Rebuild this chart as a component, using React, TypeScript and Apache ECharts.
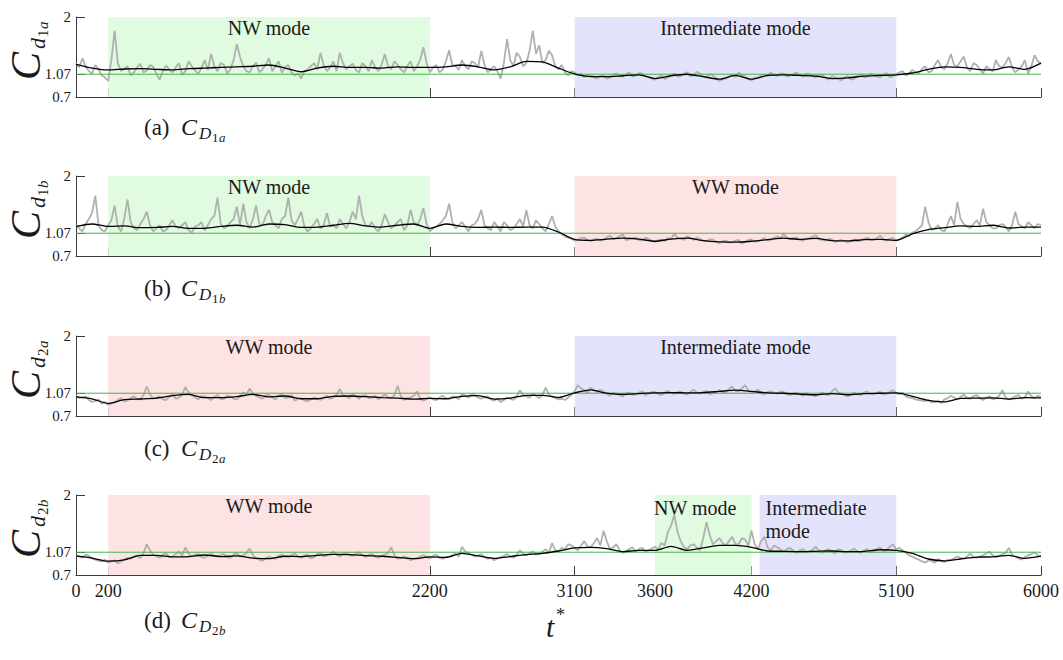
import React, { useEffect, useRef } from "react";
import * as echarts from "echarts";

// ---------- data ----------
const xTickValues = [200, 2200, 3100, 3600, 4200, 5100, 6000];
const xLabelValues = [0, 200, 2200, 3100, 3600, 4200, 5100, 6000];
const yTickValues = [0.7, 1.07, 2];
const yTickLabels = ["0.7", "1.07", "2"];
const refLevel = 1.07;
const tMax = 6000;
const rawStep = 20; // sampling step of the raw (grey) signals
const meanStep = 100; // sampling step of the moving average (black)

const raw1a = [
  1.25, 1.18, 1.33, 1.2, 1.12, 1.08, 1.22, 1.15, 1.05, 1.02, 0.96, 1.3, 1.78, 1.25, 1.12, 1.16, 1.2, 1.05, 1.1, 1.18,
  1.24, 1.1, 1.13, 1.22, 1.19, 1.08, 0.98, 1.12, 1.21, 1.15, 1.1, 1.18, 1.25, 1.06, 1.12, 1.28, 1.2, 1.13, 1.08, 1.17,
  1.3, 1.14, 1.4, 1.2, 1.12, 1.25, 1.22, 1.08, 1.15, 1.3, 1.56, 1.35, 1.2, 1.12, 1.1, 1.2, 1.26, 1.1, 1.15, 1.22,
  1.33, 1.12, 1.2, 1.28, 1.1, 1.18, 1.22, 1.1, 1.05, 1.08, 1.0, 1.12, 1.15, 1.2, 1.25, 1.15, 1.42, 1.22, 1.12, 1.18,
  1.28, 1.12, 1.42, 1.25, 1.15, 1.2, 1.24, 1.14, 1.1, 1.25, 1.2, 1.12, 1.3, 1.18, 1.12, 1.22, 1.4, 1.2, 1.15, 1.28,
  1.22, 1.15, 1.1, 1.2, 1.28, 1.12, 1.2, 1.3, 1.51, 1.25, 1.1, 1.18, 1.22, 1.1, 1.15, 1.28, 1.46, 1.22, 1.2, 1.14,
  1.3, 1.2, 1.15, 1.28, 1.25, 1.18, 1.45, 1.22, 1.1, 1.15, 1.2, 1.12, 1.0, 1.25, 1.64, 1.3, 1.2, 1.42, 1.35, 1.2,
  1.25, 1.45, 1.78, 1.4, 1.54, 1.25, 1.3, 1.45, 1.38, 1.2, 1.15, 1.22, 1.1, 1.05, 1.12, 1.1, 1.05, 1.08, 1.02, 1.06,
  1.06, 1.02, 1.0, 1.04, 1.05, 1.0, 1.02, 1.06, 1.08, 1.04, 1.03, 1.07, 1.1, 1.03, 1.05, 1.09, 1.08, 1.04, 1.02, 1.0,
  0.98, 1.02, 1.05, 0.99, 1.02, 1.06, 1.08, 1.03, 1.04, 1.08, 1.1, 1.04, 1.05, 1.11, 1.08, 1.03, 1.02, 1.07, 1.05, 1.0,
  0.96, 0.99, 1.0, 1.03, 1.06, 1.02, 1.1, 1.05, 1.03, 0.99, 0.97, 1.01, 1.02, 1.05, 1.07, 1.04, 1.1, 1.06, 1.04, 1.08,
  1.08, 1.03, 1.05, 1.07, 1.1, 1.05, 1.03, 1.08, 1.07, 1.04, 1.02, 1.06, 1.06, 1.01, 0.98, 1.04, 1.02, 0.99, 0.97, 1.02,
  1.04, 0.98, 1.0, 1.05, 1.07, 1.02, 1.03, 1.08, 1.06, 1.03, 1.02, 1.06, 1.09, 1.02, 1.04, 1.07, 1.1, 1.12, 1.05, 1.08,
  1.14, 1.1, 1.08, 1.16, 1.2, 1.1, 1.12, 1.22, 1.3, 1.18, 1.15, 1.25, 1.4, 1.22, 1.2, 1.28, 1.36, 1.18, 1.12, 1.25,
  1.22, 1.15, 1.08, 1.2, 1.15, 1.12, 1.3, 1.2, 1.18, 1.25, 1.35, 1.18, 1.1, 1.15, 1.2, 1.3, 1.08, 1.2, 1.38, 1.28,
  1.24,
];
const mean1a = [
  1.23, 1.17, 1.14, 1.155, 1.16, 1.15, 1.14, 1.16, 1.17, 1.18,
  1.19, 1.2, 1.22, 1.17, 1.11, 1.17, 1.2, 1.18, 1.18, 1.17,
  1.19, 1.18, 1.18, 1.19, 1.22, 1.19, 1.14, 1.19, 1.28, 1.27,
  1.17, 1.075, 1.03, 1.03, 1.045, 1.06, 1.0, 1.045, 1.07, 1.03,
  0.99, 1.05, 0.99, 1.05, 1.06, 1.05, 1.04, 1.0, 1.01, 1.04,
  1.05, 1.06, 1.09, 1.15, 1.19, 1.18, 1.15, 1.14, 1.19, 1.15,
  1.25,
];

const raw1b = [
  1.2, 1.15, 1.1, 1.22, 1.3, 1.4, 1.68, 1.2, 1.12, 1.1, 1.2, 1.28, 1.52, 1.18, 1.1, 1.3, 1.62, 1.25, 1.15, 1.12,
  1.22, 1.3, 1.42, 1.2, 1.1, 1.15, 1.2, 1.1, 1.12, 1.2, 1.28, 1.18, 1.15, 1.2, 1.25, 1.12, 1.08, 1.18, 1.2, 1.25,
  1.12, 1.2, 1.3, 1.35, 1.65, 1.22, 1.15, 1.18, 1.25, 1.3, 1.5, 1.2, 1.55, 1.25, 1.15, 1.3, 1.52, 1.22, 1.2, 1.35,
  1.45, 1.25, 1.2, 1.15, 1.3, 1.35, 1.65, 1.28, 1.2, 1.3, 1.42, 1.18, 1.1, 1.15, 1.22, 1.3, 1.15, 1.2, 1.4, 1.18,
  1.2, 1.15, 1.3, 1.22, 1.15, 1.25, 1.42, 1.3, 1.68, 1.35, 1.2, 1.18, 1.25, 1.15, 1.1, 1.2, 1.38, 1.25, 1.15, 1.2,
  1.25, 1.3, 1.12, 1.2, 1.45, 1.25, 1.2, 1.3, 1.48, 1.22, 1.1, 1.15, 1.18, 1.22, 1.28, 1.35, 1.55, 1.25, 1.15, 1.2,
  1.25, 1.18, 1.1, 1.2, 1.22, 1.3, 1.45, 1.2, 1.15, 1.12, 1.25, 1.18, 1.1, 1.25, 1.2, 1.12, 1.15, 1.22, 1.3, 1.18,
  1.45, 1.2, 1.15, 1.28, 1.22, 1.15, 1.1, 1.22, 1.35, 1.18, 1.1, 1.05, 1.02, 1.0, 0.98, 0.95, 0.96, 0.99, 1.0, 0.96,
  0.94, 0.97, 0.98, 0.95, 0.96, 1.0, 1.03, 0.98, 0.99, 1.02, 1.05, 0.96, 0.97, 0.99, 1.0, 0.96, 0.95, 1.0, 0.98, 0.95,
  0.93, 0.96, 0.97, 0.94, 1.0, 0.98, 1.06, 1.0, 0.98, 0.96, 1.02, 0.99, 0.96, 1.0, 0.98, 0.95, 0.94, 0.97, 0.97, 0.93,
  0.91, 0.94, 0.95, 0.92, 0.92, 0.95, 0.96, 0.9, 0.93, 0.96, 0.97, 0.93, 0.94, 0.96, 0.99, 0.95, 0.96, 0.99, 1.02, 0.98,
  1.06, 1.0, 0.97, 0.99, 1.0, 0.96, 0.95, 0.98, 0.99, 1.01, 1.04, 0.97, 0.96, 0.95, 0.98, 0.97, 0.93, 0.95, 0.96, 0.94,
  0.92, 0.95, 0.97, 0.94, 0.95, 0.98, 1.0, 0.96, 0.96, 0.99, 1.03, 0.97, 0.95, 0.98, 0.99, 0.95, 0.97, 1.0, 1.05, 1.02,
  1.08, 1.1, 1.15, 1.2, 1.5, 1.25, 1.12, 1.15, 1.2, 1.12, 1.1, 1.22, 1.35, 1.2, 1.58, 1.3, 1.22, 1.18, 1.15, 1.22,
  1.28, 1.2, 1.47, 1.25, 1.2, 1.15, 1.15, 1.2, 1.22, 1.18, 1.1, 1.2, 1.42, 1.22, 1.18, 1.15, 1.25, 1.2, 1.15, 1.22,
  1.2,
];
const mean1b = [
  1.18, 1.22, 1.18, 1.19, 1.16, 1.165, 1.18, 1.15, 1.15, 1.18,
  1.2, 1.17, 1.22, 1.21, 1.165, 1.17, 1.2, 1.23, 1.19, 1.17,
  1.2, 1.22, 1.15, 1.22, 1.18, 1.165, 1.17, 1.165, 1.17, 1.17,
  1.09, 0.97, 0.955, 0.975, 0.99, 0.975, 0.94, 0.975, 0.99, 0.95,
  0.93, 0.925, 0.94, 0.965, 0.99, 0.97, 0.985, 0.95, 0.945, 0.965,
  0.97, 0.955, 1.06, 1.13, 1.16, 1.19, 1.18, 1.2, 1.155, 1.17,
  1.17,
];

const raw2a = [
  1.03, 0.99, 1.0, 1.02, 0.96, 0.93, 0.94, 0.97, 0.9, 0.93, 0.88, 0.9, 0.92, 0.96, 0.99, 0.94, 0.95, 0.99, 1.02, 0.97,
  0.97, 1.04, 1.18, 1.05, 0.98, 1.0, 1.02, 0.97, 0.96, 1.01, 1.06, 0.98, 1.0, 1.05, 1.17, 1.08, 1.04, 1.0, 0.97, 1.02,
  1.02, 0.99, 0.96, 1.01, 1.04, 0.97, 0.98, 1.03, 1.02, 0.98, 0.97, 1.02, 1.08, 1.05, 1.15, 1.06, 1.03, 1.0, 0.98, 1.04,
  1.04, 1.0, 0.97, 1.03, 1.06, 0.99, 1.0, 1.04, 0.95, 0.98, 0.99, 0.95, 0.94, 0.97, 1.0, 0.98, 0.96, 1.0, 1.03, 0.98,
  1.0, 1.05, 1.14, 1.04, 1.02, 0.99, 1.06, 1.02, 0.98, 1.03, 1.04, 0.99, 1.0, 1.03, 0.97, 1.01, 1.05, 1.0, 0.99, 1.04,
  1.19, 1.02, 0.96, 0.99, 1.0, 1.03, 1.1, 0.98, 0.95, 0.98, 1.0, 0.97, 0.96, 1.0, 1.03, 0.99, 0.97, 1.02, 1.01, 0.97,
  1.06, 1.03, 1.0, 1.05, 1.04, 1.0, 0.98, 1.01, 1.02, 0.97, 0.95, 0.98, 0.93, 0.96, 1.0, 0.98, 0.96, 1.02, 1.12, 1.04,
  1.02, 1.0, 1.06, 1.03, 0.99, 1.04, 1.16, 1.05, 1.02, 0.99, 0.97, 0.98, 0.96, 1.0, 1.04, 1.1, 1.2, 1.15, 1.12, 1.08,
  1.16, 1.12, 1.08, 1.13, 1.1, 1.06, 1.03, 1.08, 1.06, 1.04, 1.02, 1.07, 1.08, 1.04, 1.05, 1.08, 1.1, 1.04, 1.06, 1.09,
  1.09, 1.06, 1.04, 1.08, 1.11, 1.07, 1.06, 1.09, 1.1, 1.06, 1.05, 1.09, 1.13, 1.08, 1.06, 1.1, 1.1, 1.05, 1.07, 1.09,
  1.12, 1.08, 1.09, 1.14, 1.18, 1.11, 1.1, 1.15, 1.2, 1.12, 1.08, 1.1, 1.13, 1.07, 1.05, 1.09, 1.1, 1.08, 1.06, 1.1,
  1.09, 1.06, 1.04, 1.07, 1.08, 1.05, 1.03, 1.07, 1.06, 1.04, 1.02, 1.06, 1.08, 1.05, 1.04, 1.1, 1.15, 1.08, 1.06, 1.04,
  1.02, 1.06, 1.08, 1.05, 1.04, 1.08, 1.1, 1.06, 1.05, 1.08, 1.09, 1.05, 1.06, 1.09, 1.12, 1.07, 1.05, 1.08, 1.02, 1.0,
  0.99, 0.97, 0.96, 0.95, 0.94, 0.96, 0.92, 0.93, 0.95, 0.91, 0.97, 0.99, 1.03, 1.0, 0.97, 1.01, 1.05, 0.99, 0.98, 1.02,
  1.04, 0.99, 0.96, 1.0, 1.02, 0.97, 0.99, 1.03, 1.12, 1.0, 0.97, 0.99, 1.02, 1.04, 0.98, 1.0, 1.1, 1.02, 0.99, 1.03,
  1.01,
];
const mean2a = [
  1.01, 0.98, 0.905, 0.965, 0.976, 0.99, 1.03, 1.05, 0.997, 0.997,
  1.014, 1.05, 1.01, 1.025, 0.98, 0.98, 1.02, 1.025, 1.015, 1.0,
  0.99, 0.975, 0.985, 0.98, 1.02, 1.03, 0.975, 0.99, 1.035, 1.035,
  1.0, 1.075, 1.125, 1.07, 1.05, 1.065, 1.075, 1.08, 1.075, 1.08,
  1.1, 1.12, 1.1, 1.075, 1.07, 1.055, 1.045, 1.065, 1.045, 1.065,
  1.07, 1.075, 1.02, 0.955, 0.93, 0.985, 0.99, 0.995, 0.975, 1.0,
  0.995,
];

const raw2b = [
  1.02, 1.0, 0.98, 1.03, 1.01, 0.97, 0.95, 0.93, 0.92, 0.95, 0.9, 0.92, 0.94, 0.89, 0.92, 0.95, 0.98, 0.96, 1.0, 1.02,
  0.97, 1.06, 1.2, 1.1, 1.03, 1.0, 0.98, 1.03, 1.05, 0.99, 1.0, 1.04, 1.08, 1.01, 1.15, 1.05, 1.0, 1.03, 1.04, 0.99,
  0.98, 1.02, 1.05, 1.01, 1.0, 1.03, 1.04, 0.99, 0.98, 1.03, 1.06, 1.0, 1.02, 1.06, 1.13, 1.02, 0.97, 0.95, 0.93, 0.97,
  1.0, 0.98, 0.96, 1.01, 1.03, 1.0, 0.99, 1.02, 1.05, 1.0, 0.98, 1.02, 1.03, 0.97, 0.99, 1.04, 1.06, 1.0, 1.02, 1.04,
  1.08, 1.03, 1.0, 1.04, 1.06, 1.02, 1.01, 1.05, 1.07, 1.02, 0.99, 1.03, 1.04, 1.0, 0.98, 1.01, 1.03, 1.06, 1.15, 1.02,
  0.96, 0.98, 1.0, 0.97, 0.94, 0.96, 0.98, 1.0, 1.02, 0.99, 0.97, 1.01, 1.03, 0.98, 0.96, 0.99, 1.0, 1.02, 1.05, 1.0,
  1.16, 1.08, 1.06, 1.03, 1.0, 1.02, 1.04, 0.99, 0.96, 0.98, 0.94, 0.97, 0.99, 1.01, 1.04, 1.0, 0.98, 1.03, 1.1, 1.05,
  1.02, 1.05, 1.08, 1.03, 1.04, 1.08, 1.12, 1.06, 1.22, 1.1, 1.08, 1.14, 1.12, 1.2, 1.18, 1.14, 1.1, 1.18, 1.25, 1.16,
  1.15, 1.22, 1.3, 1.18, 1.42, 1.25, 1.12, 1.15, 1.2, 1.1, 1.06, 1.09, 1.12, 1.15, 1.08, 1.12, 1.14, 1.08, 1.1, 1.13,
  1.16, 1.12, 1.22, 1.18, 1.4, 1.5, 1.68, 1.4, 1.25, 1.15, 1.12, 1.18, 1.2, 1.15, 1.1, 1.3, 1.56, 1.35, 1.2, 1.25,
  1.3, 1.22, 1.18, 1.25, 1.32, 1.2, 1.2, 1.3, 1.28, 1.18, 1.42, 1.2, 1.12, 1.25, 1.32, 1.15, 1.1, 1.18, 1.15, 1.12,
  1.08, 1.12, 1.14, 1.09, 1.06, 1.1, 1.12, 1.07, 1.08, 1.11, 1.16, 1.09, 1.06, 1.1, 1.12, 1.08, 1.05, 1.12, 1.1, 1.07,
  1.07, 1.1, 1.13, 1.08, 1.06, 1.1, 1.12, 1.07, 1.08, 1.12, 1.15, 1.09, 1.1, 1.16, 1.2, 1.12, 1.14, 1.1, 1.06, 1.02,
  1.0, 0.97, 0.95, 0.92, 0.9, 0.94, 0.93, 0.9, 0.96, 0.93, 0.91, 0.95, 0.94, 0.97, 1.0, 0.98, 0.96, 1.0, 1.05, 0.99,
  0.98, 1.0, 1.02, 1.05, 1.08, 1.02, 0.99, 1.01, 1.04, 1.06, 1.14, 1.03, 1.0, 0.97, 0.95, 0.99, 1.02, 1.04, 1.07, 1.02,
  1.0,
];
const mean2b = [
  1.01, 0.975, 0.925, 0.945, 1.02, 1.02, 0.995, 1.0, 1.025, 1.0,
  1.01, 0.975, 0.965, 1.005, 1.0, 1.02, 1.035, 1.03, 1.015, 1.005,
  0.985, 0.965, 0.995, 0.985, 1.05, 1.01, 0.97, 1.0, 1.03, 1.05,
  1.09, 1.14, 1.15, 1.13, 1.08, 1.1, 1.1, 1.165, 1.1, 1.14,
  1.18, 1.18, 1.15, 1.09, 1.085, 1.08, 1.085, 1.09, 1.08, 1.085,
  1.11, 1.1, 1.05, 0.96, 0.93, 0.96, 0.99, 0.995, 1.02, 0.97,
  1.005,
];

// mode intervals [from, to] and names
const modes1a = [
  { name: "NW mode", from: 200, to: 2200, kind: "NW" },
  { name: "Intermediate mode", from: 3100, to: 5100, kind: "IM" },
];
const modes1b = [
  { name: "NW mode", from: 200, to: 2200, kind: "NW" },
  { name: "WW mode", from: 3100, to: 5100, kind: "WW" },
];
const modes2a = [
  { name: "WW mode", from: 200, to: 2200, kind: "WW" },
  { name: "Intermediate mode", from: 3100, to: 5100, kind: "IM" },
];
const modes2b = [
  { name: "WW mode", from: 200, to: 2200, kind: "WW" },
  { name: "NW mode", from: 3600, to: 4200, kind: "NW", left: true },
  { name: "Intermediate\nmode", from: 4250, to: 5100, kind: "IM", left: true },
];

const panelTags = ["a", "b", "c", "d"];
const panelSubs = [["1", "a"], ["1", "b"], ["2", "a"], ["2", "b"]];

// ---------- styling / layout ----------
const SERIF = "'Liberation Serif', 'DejaVu Serif', serif";
const modeColors: Record<string, string> = {
  NW: "#e0fbe0",
  WW: "#fde3e3",
  IM: "#e3e3fb",
};
const AXIS_COLOR = "#3c3c3c";
const TEXT_COLOR = "#1a1a1a";
const gridTops = [17, 176, 336, 495];
const gridHeight = 80;
const gridLeft = 76;
const gridRight = 22;
const captionY = [127, 288, 448, 620];

function yLabel(i: number) {
  const gy = gridTops[i] + 63;
  const sub = panelSubs[i];
  return {
    type: "group",
    x: 26,
    y: gy,
    rotation: Math.PI / 2,
    children: [
      { type: "text", x: 0, y: 0, style: { text: "C", fontFamily: SERIF, fontStyle: "italic", fontSize: 42, fill: TEXT_COLOR, align: "left", verticalAlign: "middle" } },
      { type: "text", x: 31, y: 11, style: { text: "d", fontFamily: SERIF, fontStyle: "italic", fontSize: 22, fill: TEXT_COLOR, align: "left", verticalAlign: "middle" } },
      { type: "text", x: 43, y: 17, style: { text: sub[0], fontFamily: SERIF, fontSize: 15, fill: TEXT_COLOR, align: "left", verticalAlign: "middle" } },
      { type: "text", x: 51, y: 17, style: { text: sub[1], fontFamily: SERIF, fontStyle: "italic", fontSize: 15, fill: TEXT_COLOR, align: "left", verticalAlign: "middle" } },
    ],
  };
}

function caption(i: number) {
  const sub = panelSubs[i];
  return {
    type: "group",
    x: 144,
    y: captionY[i],
    children: [
      { type: "text", x: 0, y: 0, style: { text: `(${panelTags[i]})`, fontFamily: SERIF, fontSize: 23, fill: TEXT_COLOR, align: "left", verticalAlign: "middle" } },
      { type: "text", x: 37, y: 0, style: { text: "C", fontFamily: SERIF, fontStyle: "italic", fontSize: 24, fill: TEXT_COLOR, align: "left", verticalAlign: "middle" } },
      { type: "text", x: 55, y: 6, style: { text: "D", fontFamily: SERIF, fontStyle: "italic", fontSize: 17, fill: TEXT_COLOR, align: "left", verticalAlign: "middle" } },
      { type: "text", x: 68, y: 10, style: { text: sub[0], fontFamily: SERIF, fontSize: 13, fill: TEXT_COLOR, align: "left", verticalAlign: "middle" } },
      { type: "text", x: 75, y: 10, style: { text: sub[1], fontFamily: SERIF, fontStyle: "italic", fontSize: 13, fill: TEXT_COLOR, align: "left", verticalAlign: "middle" } },
    ],
  };
}

function buildOption() {
  const panels = [
    { raw: raw1a, mean: mean1a, modes: modes1a },
    { raw: raw1b, mean: mean1b, modes: modes1b },
    { raw: raw2a, mean: mean2a, modes: modes2a },
    { raw: raw2b, mean: mean2b, modes: modes2b },
  ];
  const grid = panels.map((_, i) => ({ left: gridLeft, right: gridRight, top: gridTops[i], height: gridHeight }));
  const xAxis = panels.map((_, i) => ({
    gridIndex: i,
    type: "value",
    min: 0,
    max: tMax,
    axisLine: { show: true, onZero: false, lineStyle: { color: AXIS_COLOR, width: 1 } },
    axisTick: { show: true, inside: true, length: 9, customValues: xTickValues, lineStyle: { color: AXIS_COLOR } },
    axisLabel: {
      show: i === 3,
      customValues: xLabelValues,
      formatter: (v: number) => String(Math.round(v)),
      fontFamily: SERIF,
      fontSize: 18,
      color: TEXT_COLOR,
      margin: 7,
    },
    splitLine: { show: false },
  }));
  const yAxis = panels.map((_, i) => ({
    gridIndex: i,
    type: "value",
    min: 0.7,
    max: 2,
    axisLine: { show: true, onZero: false, lineStyle: { color: AXIS_COLOR, width: 1 } },
    axisTick: { show: true, inside: true, length: 9, customValues: yTickValues, lineStyle: { color: AXIS_COLOR } },
    axisLabel: {
      show: true,
      customValues: yTickValues,
      formatter: (v: number) => {
        const k = yTickValues.findIndex((y) => Math.abs(y - v) < 1e-6);
        return k >= 0 ? yTickLabels[k] : "";
      },
      fontFamily: SERIF,
      fontSize: 15,
      color: TEXT_COLOR,
      margin: 5,
    },
    splitLine: { show: false },
  }));

  const series: any[] = [];
  panels.forEach((p, i) => {
    series.push({
      type: "line",
      xAxisIndex: i,
      yAxisIndex: i,
      data: [[0, refLevel], [tMax, refLevel]],
      symbol: "none",
      lineStyle: { opacity: 0 },
      silent: true,
      z: 1,
      markArea: {
        silent: true,
        data: p.modes.map((m: any) => [
          {
            xAxis: m.from,
            name: m.name,
            itemStyle: { color: modeColors[m.kind] },
            label: m.left
              ? { show: true, position: "insideTopLeft", distance: 1, offset: [m.kind === "IM" ? 5 : -2, 0], fontFamily: SERIF, fontSize: 20, lineHeight: 23, color: TEXT_COLOR }
              : { show: true, position: "insideTop", distance: 1, fontFamily: SERIF, fontSize: 20, color: TEXT_COLOR },
          },
          { xAxis: m.to },
        ]),
      },
    });
    series.push({
      type: "line",
      xAxisIndex: i,
      yAxisIndex: i,
      data: p.raw.map((v, k) => [k * rawStep, v]),
      symbol: "none",
      lineStyle: { color: "#b0b0b0", width: 1.8, join: "bevel" },
      silent: true,
      z: 2,
    });
    series.push({
      type: "line",
      xAxisIndex: i,
      yAxisIndex: i,
      data: [[0, refLevel], [tMax, refLevel]],
      symbol: "none",
      lineStyle: { color: "#46b446", width: 1 },
      silent: true,
      z: 3,
    });
    series.push({
      type: "line",
      xAxisIndex: i,
      yAxisIndex: i,
      data: p.mean.map((v, k) => [k * meanStep, v]),
      symbol: "none",
      smooth: 0.25,
      lineStyle: { color: "#000000", width: 1.3 },
      silent: true,
      z: 4,
    });
  });

  const graphic: any[] = [];
  for (let i = 0; i < 4; i++) {
    graphic.push(yLabel(i));
    graphic.push(caption(i));
  }
  graphic.push({
    type: "group",
    x: 546,
    y: 626,
    children: [
      { type: "text", x: 0, y: 0, style: { text: "t", fontFamily: SERIF, fontStyle: "italic", fontSize: 30, fill: TEXT_COLOR, align: "left", verticalAlign: "middle" } },
      { type: "text", x: 10, y: -11, style: { text: "*", fontFamily: SERIF, fontSize: 18, fill: TEXT_COLOR, align: "left", verticalAlign: "middle" } },
    ],
  });

  return {
    animation: false,
    backgroundColor: "#ffffff",
    grid,
    xAxis,
    yAxis,
    series,
    graphic,
  };
}

export default function App() {
  const ref = useRef<HTMLDivElement>(null);
  useEffect(() => {
    if (!ref.current) return;
    const chart = echarts.init(ref.current, undefined, { renderer: "svg" });
    chart.setOption(buildOption() as any);
    return () => chart.dispose();
  }, []);
  return (
    <div
      ref={ref}
      style={{ position: "fixed", left: 0, top: 0, width: 1063, height: 660, background: "#fff" }}
    />
  );
}
